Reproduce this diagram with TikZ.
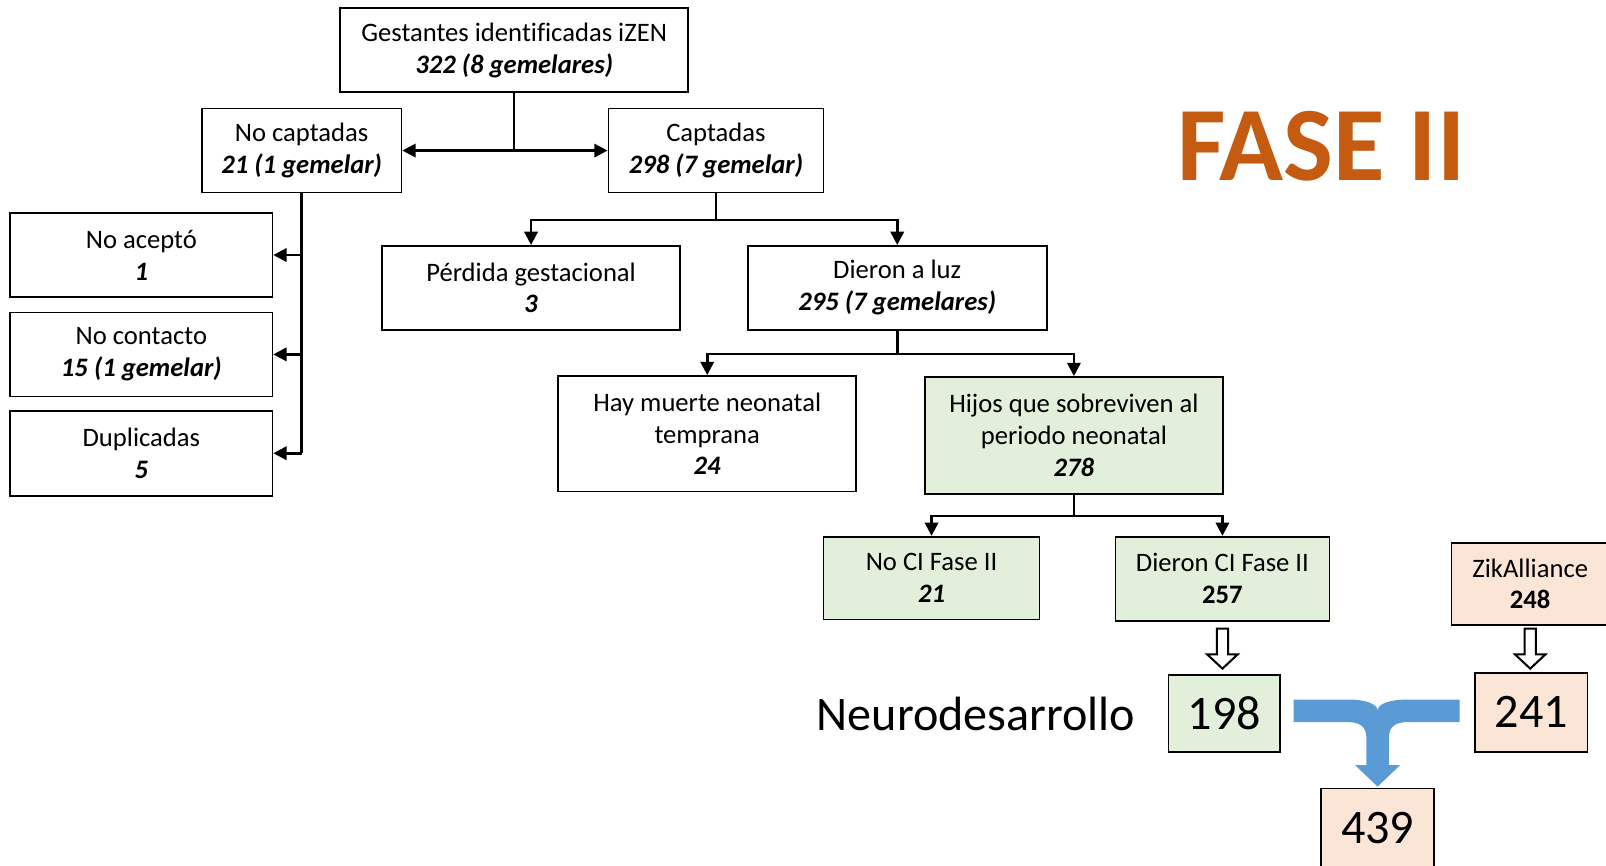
\documentclass[tikz,border=0pt]{standalone}
\usepackage{fontspec}
\setmainfont{Carlito}[Ligatures={NoCommon}]
\usetikzlibrary{arrows.meta,calc}
\definecolor{gfill}{HTML}{E2EFDA}
\definecolor{pfill}{HTML}{FBE5D6}
\definecolor{faseor}{HTML}{C55A11}
\definecolor{blueT}{HTML}{5B9BD5}
\tikzset{
  box/.style={draw, line width=1.6pt, align=center, inner sep=0pt,
    font=\fontsize{26}{31}\selectfont},
  gbox/.style={box, fill=gfill},
  pbox/.style={box, fill=pfill},
  bignum/.style={font=\fontsize{47}{52}\selectfont},
  conn/.style={line width=2.5pt},
  arr/.style={conn, -{Triangle[length=13pt,width=13pt]}},
  hollowarr/.style={draw, line width=2pt, fill=white, line join=miter},
}
\begin{document}
\begin{tikzpicture}[x=1pt,y=-1pt]
\useasboundingbox (0,0) rectangle (1568,845);
\clip (0,0) rectangle (1568,845);
% boxes
\node[box, minimum width=340, minimum height=82] (top) at (502,49) {Gestantes identificadas iZEN\\\textbf{\textit{322 (8 gemelares)}}};
\node[box, minimum width=195, minimum height=82] (nocapt) at (294.5,147) {No captadas\\\textbf{\textit{21 (1 gemelar)}}};
\node[box, minimum width=210, minimum height=82] (capt) at (699,147) {Captadas\\\textbf{\textit{298 (7 gemelar)}}};
\node[box, minimum width=256, minimum height=82] (noacepto) at (138,249) {No aceptó\\\textbf{\textit{1}}};
\node[box, minimum width=256, minimum height=82] (nocontacto) at (138,346) {No contacto\\\textbf{\textit{15 (1 gemelar)}}};
\node[box, minimum width=256, minimum height=83] (dup) at (138,442.5) {Duplicadas\\\textbf{\textit{5}}};
\node[box, minimum width=291, minimum height=82] (perdida) at (518.5,281) {Pérdida gestacional\\\textbf{\textit{3}}};
\node[box, minimum width=292, minimum height=82] (dieron) at (876,281) {Dieron a luz\\\textbf{\textit{295 (7 gemelares)}}};
\node[box, minimum width=291, minimum height=113] (muerte) at (690.5,423.5) {Hay muerte neonatal\\temprana\\\textbf{\textit{24}}};
\node[gbox, minimum width=291, minimum height=114] (hijos) at (1048.5,425) {Hijos que sobreviven al\\periodo neonatal\\\textbf{\textit{278}}};
\node[gbox, minimum width=211, minimum height=81] (noci) at (909.5,564.5) {No CI Fase II\\\textbf{\textit{21}}};
\node[gbox, minimum width=209, minimum height=82] (dci) at (1193.5,565) {Dieron CI Fase II\\\textbf{257}};
\node[pbox, minimum width=154, minimum height=80] (zik) at (1494,570) {ZikAlliance\\\textbf{248}};
\node[gbox, bignum, minimum width=109, minimum height=75] (b198) at (1195.5,696.5) {198};
\node[pbox, bignum, minimum width=110, minimum height=77] (b241) at (1495,695.5) {241};
\node[pbox, bignum, minimum width=110, minimum height=76] (b439) at (1345,808) {439};
\node[bignum, anchor=center] (neuro) at (953,697) {Neurodesarrollo};
\node[font=\fontsize{103}{115}\selectfont\bfseries, text=faseor] (fase) at (1290,143) {FASE II};
% connectors
\coordinate (j1) at (top.south |- nocapt.east);
\draw[conn] (top.south) -- (j1);
\draw[arr] (j1) -- (nocapt.east);
\draw[arr] (j1) -- (capt.west);
\coordinate (j0) at (nocapt.south |- dup.east);
\draw[conn] (nocapt.south) -- (j0);
\draw[arr] (nocapt.south |- noacepto.east) -- (noacepto.east);
\draw[arr] (nocapt.south |- nocontacto.east) -- (nocontacto.east);
\draw[arr] (j0) -- (dup.east);
\coordinate (j2) at ($(capt.south)+(0,26)$);
\draw[conn] (capt.south) -- (j2);
\draw[arr] (j2) -| (perdida.north);
\draw[arr] (j2) -| (dieron.north);
\coordinate (j3) at ($(dieron.south)+(0,23)$);
\draw[conn] (dieron.south) -- (j3);
\draw[arr] (j3) -| (muerte.north);
\draw[arr] (j3) -| (hijos.north);
\coordinate (j4) at ($(hijos.south)+(0,21)$);
\draw[conn] (hijos.south) -- (j4);
\draw[arr] (j4) -| (noci.north);
\draw[arr] (j4) -| (dci.north);
% hollow arrows
\draw[hollowarr] ($(dci.south)+(-5.5,7)$) -- ++(11,0) -- ++(0,25) -- ++(9.5,0) -- ++(-15,14) -- ++(-15,-14) -- ++(9.5,0) -- cycle;
\draw[hollowarr] ($(zik.south)+(-5.5,3)$) -- ++(11,0) -- ++(0,25) -- ++(9.5,0) -- ++(-15,14) -- ++(-15,-14) -- ++(9.5,0) -- cycle;
% blue merge arrow
\fill[blueT] (1263,683) -- (1316,683) .. controls (1333,683) and (1345,687) .. (1345,694)
  .. controls (1345,687) and (1357,683) .. (1374,683) -- (1425,683) -- (1425,705) -- (1374,705)
  .. controls (1362,705) and (1356,710) .. (1356,720) -- (1356,747) -- (1367,747) -- (1345,768)
  -- (1323,747) -- (1334,747) -- (1334,720) .. controls (1334,710) and (1328,705) .. (1316,705)
  -- (1263,705) -- cycle;
\end{tikzpicture}
\end{document}
